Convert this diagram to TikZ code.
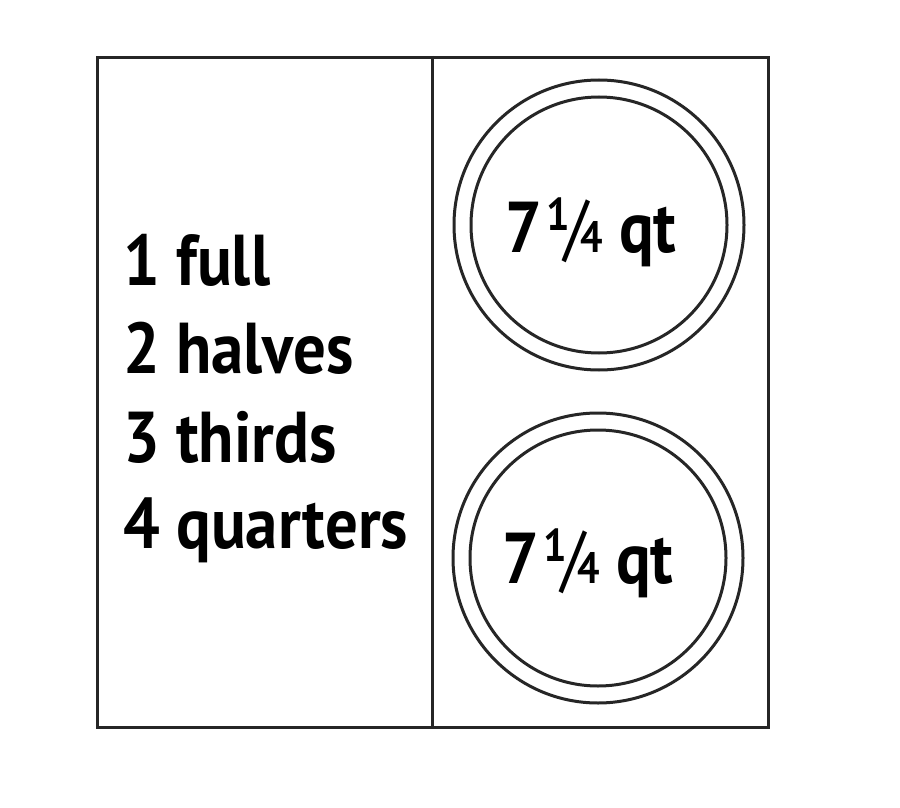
\documentclass[tikz,border=0pt]{standalone}
\usepackage{fontspec}
\setmainfont{PT Sans}[FakeStretch=0.9]
\newcommand\qtfrac{\kern4pt\raisebox{22pt}{\fontsize{46}{46}\selectfont 1}\kern-5pt{\mdseries\fontsize{74}{74}\selectfont /}\kern-8pt\raisebox{0pt}{\fontsize{44}{44}\selectfont 4}}
\begin{document}
\begin{tikzpicture}[x=1pt,y=-1pt,
  frame/.style={draw=black!85,line width=3pt},
  ring/.style={draw=black!85,line width=3pt},
  lbl/.style={font=\fontsize{72}{88}\selectfont\bfseries,inner sep=0pt,anchor=base west},
  qt/.style={font=\fontsize{72}{88}\selectfont\bfseries,inner sep=0pt,anchor=base}]
\useasboundingbox (0,0) rectangle (900,808);
\fill[white] (0,0) rectangle (900,808);
\node[frame,inner sep=0pt,minimum width=671pt,minimum height=670pt,anchor=north west] (box) at (96,56) {};
\coordinate (dtop) at (432,56);
\coordinate (dbot) at (432,726);
\draw[frame] (dtop) -- (dbot);
\node[ring,circle,minimum size=290pt,inner sep=0pt] (o1) at (599,225) {};
\node[ring,circle,minimum size=256pt,inner sep=0pt] (i1) at (599,225) {};
\node[ring,circle,minimum size=290pt,inner sep=0pt] (o2) at (598,558) {};
\node[ring,circle,minimum size=256pt,inner sep=0pt] (i2) at (598,558) {};
\node[qt] (t1) at (591,252) {7\qtfrac{} qt};
\node[qt] (t2) at (588,583) {7\qtfrac{} qt};
\node[lbl] (l1) at (123,285) {1 full};
\node[lbl] (l2) at (123,373) {2 halves};
\node[lbl] (l3) at (123,462) {3 thirds};
\node[lbl] (l4) at (123,548) {4 quarters};
\end{tikzpicture}
\end{document}
